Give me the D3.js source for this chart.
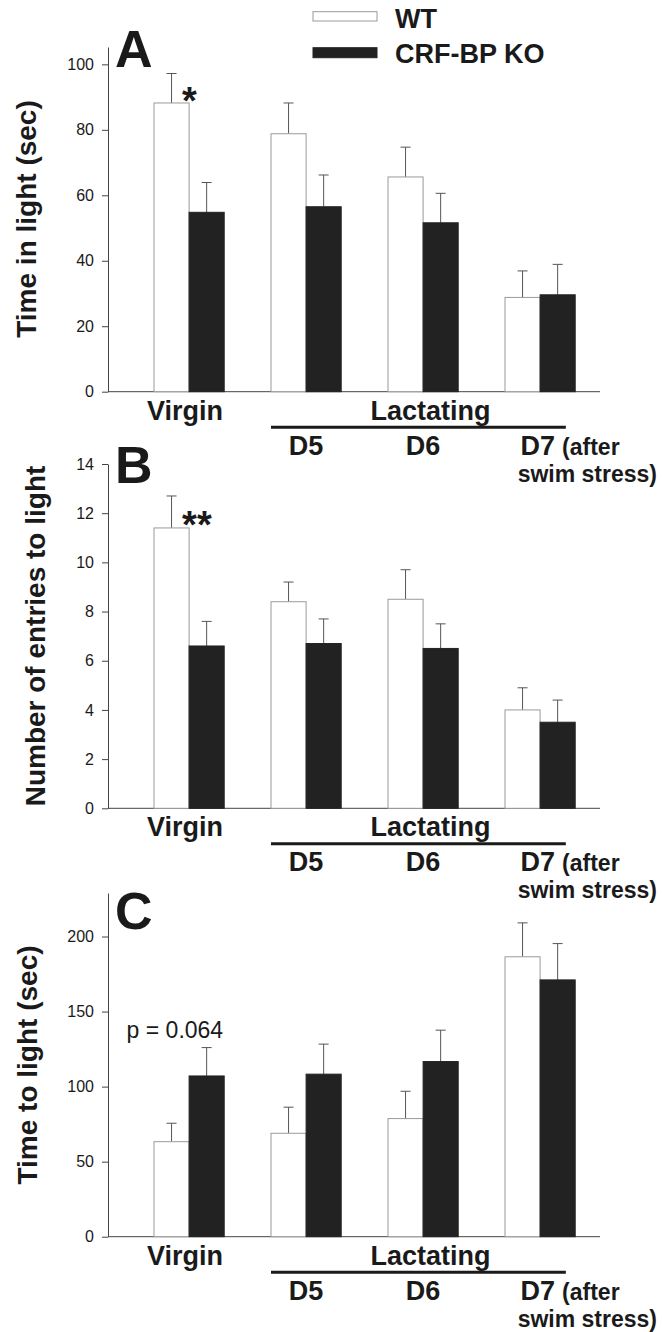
<!DOCTYPE html>
<html>
<head>
<meta charset="utf-8">
<script src="https://cdn.jsdelivr.net/npm/d3@7"></script>
<style>
  body { margin: 0; background: #fff; }
  text { font-family: "Liberation Sans", Arial, sans-serif; fill: #1a1a1a; }
</style>
</head>
<body>
<div class="chart"></div>
<script>
// groups and series
var groups = ["Virgin", "D5", "D6", "D7"];
var series = ["WT", "CRF-BP KO"];

// A: time in light (sec)
var lightWT = [88.2, 78.8, 65.6, 28.8];
var lightWTErr = [9.0, 9.4, 9.1, 8.1];
var lightKO = [54.8, 56.5, 51.6, 29.6];
var lightKOErr = [9.1, 9.7, 9.0, 9.3];
var lightTicks = [0, 20, 40, 60, 80, 100];

// B: number of entries to light
var entriesWT = [11.4, 8.4, 8.5, 4.0];
var entriesWTErr = [1.3, 0.8, 1.2, 0.9];
var entriesKO = [6.6, 6.7, 6.5, 3.5];
var entriesKOErr = [1.0, 1.0, 1.0, 0.9];
var entriesTicks = [0, 2, 4, 6, 8, 10, 12, 14];

// C: time to light (sec)
var latencyWT = [63.3, 68.9, 78.7, 186.5];
var latencyWTErr = [12.3, 17.4, 18.2, 22.6];
var latencyKO = [107.1, 108.3, 116.7, 171.1];
var latencyKOErr = [18.9, 20.0, 20.9, 24.2];
var latencyTicks = [0, 50, 100, 150, 200];

var svgWidth = 662;
var svgHeight = 1332;

var colors = { "WT": "#ffffff", "CRF-BP KO": "#222222" };
var strokes = { "WT": "#9a9a9a", "CRF-BP KO": "#222222" };

var svg = d3.select(".chart")
  .append("svg")
  .attr("width", svgWidth)
  .attr("height", svgHeight);

// shared x scales
var axisX = 108;
var xScale = d3.scaleBand()
  .domain(groups)
  .range([130.6, 598.6]);
var xInner = d3.scaleBand()
  .domain(series)
  .range([xScale.bandwidth() * 0.2, xScale.bandwidth() * 0.8]);

var panels = [
  { letter: "A", title: "Time in light (sec)", wt: lightWT, wtErr: lightWTErr, ko: lightKO, koErr: lightKOErr,
    ticks: lightTicks, max: 105.3, bottom: 391.7, top: 47, titleY: 219, titleX: 36, letterY: 67,
    note: { text: "*", value: 93, size: 38, bold: true } },
  { letter: "B", title: "Number of entries to light", wt: entriesWT, wtErr: entriesWTErr, ko: entriesKO, koErr: entriesKOErr,
    ticks: entriesTicks, max: 14, bottom: 808.3, top: 464, titleY: 636, titleX: 45, letterY: 483,
    note: { text: "**", value: 12.07, size: 38, bold: true } },
  { letter: "C", title: "Time to light (sec)", wt: latencyWT, wtErr: latencyWTErr, ko: latencyKO, koErr: latencyKOErr,
    ticks: latencyTicks, max: 229, bottom: 1236.7, top: 893, titleY: 1065, titleX: 37, letterY: 929,
    note: { text: "p = 0.064", value: 132.5, size: 23, bold: false } }
];

function drawPanel(p) {
  var g = svg.append("g");

  var yScale = d3.scaleLinear()
    .domain([0, p.max])
    .range([p.bottom, p.top]);

  // y axis
  var leftAxis = d3.axisLeft(yScale)
    .tickValues(p.ticks)
    .tickSize(6)
    .tickSizeOuter(0)
    .tickPadding(8);

  var yAxis = g.append("g")
    .attr("transform", `translate(${axisX}, 0)`)
    .call(leftAxis);
  yAxis.selectAll("path, line").attr("stroke", "#444");
  yAxis.selectAll("text")
    .style("font-family", "'Liberation Sans', Arial, sans-serif")
    .style("font-size", "16px")
    .attr("fill", "#2a2a2a");

  // x axis line
  g.append("line")
    .attr("x1", axisX)
    .attr("x2", 600)
    .attr("y1", yScale(0))
    .attr("y2", yScale(0))
    .attr("stroke", "#444");

  // bars
  var rows = groups.map(function(grp, i) {
    return [
      { group: grp, key: "WT", value: p.wt[i], err: p.wtErr[i] },
      { group: grp, key: "CRF-BP KO", value: p.ko[i], err: p.koErr[i] }
    ];
  });
  var flat = d3.merge(rows);

  // error bars (only upward)
  var errG = g.append("g").attr("stroke", "#555").attr("stroke-width", 1);
  flat.forEach(function(d) {
    var cx = xScale(d.group) + xInner(d.key) + xInner.bandwidth() / 2;
    errG.append("line")
      .attr("x1", cx).attr("x2", cx)
      .attr("y1", yScale(d.value)).attr("y2", yScale(d.value + d.err));
    errG.append("line")
      .attr("x1", cx - 5).attr("x2", cx + 5)
      .attr("y1", yScale(d.value + d.err)).attr("y2", yScale(d.value + d.err));
  });

  g.selectAll("rect.bar")
    .data(flat)
    .enter()
    .append("rect")
    .attr("class", "bar")
    .attr("x", d => xScale(d.group) + xInner(d.key))
    .attr("y", d => yScale(d.value))
    .attr("width", xInner.bandwidth())
    .attr("height", d => yScale(0) - yScale(d.value))
    .attr("fill", d => colors[d.key])
    .attr("stroke", d => strokes[d.key])
    .attr("stroke-width", 1);

  // panel letter
  g.append("text")
    .attr("x", axisX + 7)
    .attr("y", p.letterY)
    .style("font-size", "52px")
    .style("font-weight", "bold")
    .text(p.letter);

  // y title
  g.append("text")
    .attr("transform", `translate(${p.titleX}, ${p.titleY}) rotate(-90)`)
    .attr("text-anchor", "middle")
    .style("font-size", "28px")
    .style("font-weight", "bold")
    .text(p.title);

  // annotation
  var noteX = p.note.bold ? xScale("Virgin") + xInner("CRF-BP KO") - 7 : xScale("Virgin") - 4;
  g.append("text")
    .attr("x", noteX)
    .attr("y", p.note.bold ? yScale(p.note.value) + 27 : yScale(p.note.value))
    .style("font-size", p.note.size + "px")
    .style("font-weight", p.note.bold ? "bold" : "normal")
    .text(p.note.text);

  // category labels
  var base = yScale(0);
  var center = d => xScale(d) + xScale.bandwidth() / 2;

  var labels = g.append("g")
    .style("font-weight", "bold")
    .style("font-size", "27px");

  labels.append("text")
    .attr("x", center("Virgin") - 4)
    .attr("y", base + 28)
    .attr("text-anchor", "middle")
    .text("Virgin");

  var lineStart = xScale("D5") + xInner("WT");
  var lineEnd = xScale("D7") + xScale.bandwidth() * 0.72;
  labels.append("text")
    .attr("x", (lineStart + lineEnd) / 2 + 12)
    .attr("y", base + 28)
    .attr("text-anchor", "middle")
    .text("Lactating");

  g.append("line")
    .attr("x1", lineStart)
    .attr("x2", lineEnd)
    .attr("y1", base + 35.5)
    .attr("y2", base + 35.5)
    .attr("stroke", "#1a1a1a")
    .attr("stroke-width", 3);

  ["D5", "D6"].forEach(function(d) {
    labels.append("text")
      .attr("x", center(d))
      .attr("y", base + 63)
      .attr("text-anchor", "middle")
      .text(d);
  });

  labels.append("text")
    .attr("x", center("D7") + 15)
    .attr("y", base + 63)
    .attr("text-anchor", "end")
    .text("D7");

  labels.append("text")
    .attr("x", center("D7") + 22)
    .attr("y", base + 63)
    .style("font-size", "23px")
    .text("(after");

  labels.append("text")
    .attr("x", 657)
    .attr("y", base + 90)
    .attr("text-anchor", "end")
    .style("font-size", "23px")
    .text("swim stress)");
}

panels.forEach(drawPanel);

// legend
var legend = svg.append("g");
series.forEach(function(s, i) {
  legend.append("rect")
    .attr("x", 313)
    .attr("y", i === 0 ? 11.7 : 47.7)
    .attr("width", 64)
    .attr("height", i === 0 ? 9.3 : 10)
    .attr("fill", colors[s])
    .attr("stroke", strokes[s]);
  legend.append("text")
    .attr("x", 395)
    .attr("y", i === 0 ? 27.5 : 63)
    .style("font-size", "27px")
    .style("font-weight", "bold")
    .text(s);
});
</script>
</body>
</html>
